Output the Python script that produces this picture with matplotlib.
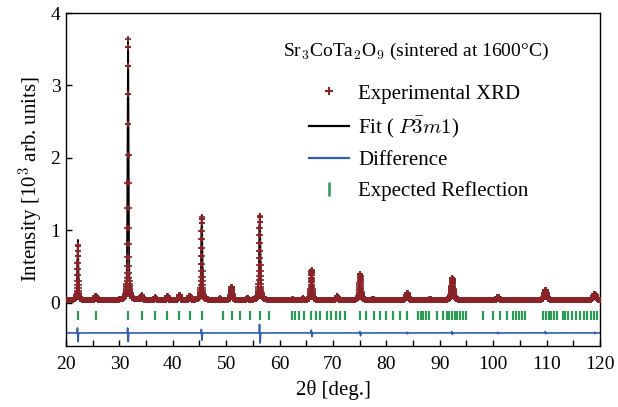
import numpy as np
import matplotlib
matplotlib.use("Agg")
import matplotlib.pyplot as plt
from matplotlib.ticker import MultipleLocator
from matplotlib.lines import Line2D

plt.rcParams['font.family'] = ['Liberation Serif', 'DejaVu Serif']
plt.rcParams['mathtext.fontset'] = 'cm'

# ---- data ----
two_theta_range = (20.0, 120.0)
step = 0.02
background = 0.035

peak_pos = [22.22, 25.6, 31.62, 34.2, 36.7, 39.0, 41.25, 43.2, 45.42, 48.8,
            51.0, 54.0, 56.28, 62.5, 64.4, 65.98, 70.8, 75.1, 77.5, 83.9,
            88.2, 92.35, 100.9, 109.8, 119.0]
exp_height = [0.76, 0.06, 3.60, 0.06, 0.035, 0.05, 0.07, 0.06, 1.15, 0.02,
              0.18, 0.02, 1.16, 0.01, 0.02, 0.41, 0.05, 0.36, 0.01, 0.10,
              0.01, 0.30, 0.04, 0.14, 0.09]
fit_height = [0.83, 0.06, 3.62, 0.06, 0.035, 0.05, 0.07, 0.06, 1.17, 0.02,
              0.18, 0.02, 1.19, 0.01, 0.02, 0.42, 0.05, 0.37, 0.01, 0.10,
              0.01, 0.30, 0.04, 0.14, 0.09]
peak_fwhm = [0.22, 0.30, 0.22, 0.30, 0.30, 0.30, 0.30, 0.30, 0.25, 0.30,
             0.32, 0.30, 0.28, 0.30, 0.30, 0.33, 0.36, 0.36, 0.40, 0.42,
             0.42, 0.46, 0.48, 0.52, 0.56]

diff_base = -0.42
diff_pos = [22.2, 31.6, 45.4, 56.3, 66.0, 75.1, 83.9, 92.3, 100.9, 109.8, 119.0]
diff_up = [0.07, 0.07, 0.05, 0.12, 0.04, 0.02, 0.01, 0.02, 0.01, 0.02, 0.01]
diff_down = [-0.12, -0.12, -0.10, -0.14, -0.05, -0.04, -0.01, -0.02, -0.01, -0.01, -0.01]

refl_pos = [22.2, 25.6, 31.6, 34.25, 36.75, 38.9, 41.25, 43.25, 45.45, 49.4,
            51.05, 52.55, 54.55, 56.25, 58.0, 62.4, 62.8, 63.7, 64.5, 65.9,
            66.9, 67.5, 68.8, 69.7, 70.6, 71.4, 72.3, 75.0, 76.2, 77.6,
            78.8, 80.0, 81.3, 82.5, 83.8, 85.9, 86.4, 86.9, 87.5, 88.0,
            89.4, 90.6, 91.3, 91.8, 92.3, 92.8, 93.3, 93.8, 94.3, 94.9,
            98.1, 100.0, 101.3, 102.5, 103.8, 104.3, 104.8, 105.3, 105.9,
            109.4, 109.9, 110.4, 110.9, 111.4, 112.0, 113.0, 113.5, 114.0,
            114.8, 115.5, 116.3, 117.0, 117.6, 118.3, 118.9, 119.5]
refl_ymin, refl_ymax = -0.235, -0.12

xticks = [20, 30, 40, 50, 60, 70, 80, 90, 100, 110, 120]
yticks = [0, 1, 2, 3, 4]

# ---- profiles built from the peak table ----
x = np.arange(two_theta_range[0], two_theta_range[1] + step / 2, step)


def profile(heights):
    y = np.full_like(x, background)
    for p, h, w in zip(peak_pos, heights, peak_fwhm):
        g = np.exp(-4 * np.log(2) * ((x - p) / w) ** 2)
        lz = 1.0 / (1 + 4 * ((x - p) / w) ** 2)
        y += h * (0.5 * g + 0.5 * lz)
    return y


y_exp = profile(exp_height)
y_fit = profile(fit_height)

y_diff = np.full_like(x, diff_base)
for p, u, d in zip(diff_pos, diff_up, diff_down):
    y_diff += u * np.exp(-((x - (p - 0.06)) / 0.05) ** 2)
    y_diff += d * np.exp(-((x - (p + 0.06)) / 0.05) ** 2)

red = '#8A2327'
green = '#2A9A55'
blue = '#2F5DB3'

fig = plt.figure(figsize=(6.18, 4.07), dpi=100)
ax = fig.add_axes([66 / 618, 1 - 346 / 407, 534 / 618, 333 / 407])

ax.plot(x, y_fit, color='black', lw=1.3, zorder=2)
ax.plot(x, y_exp, linestyle='none', marker='+', ms=5, mew=1.2, color=red,
        zorder=3)
ax.plot(x, y_diff, color=blue, lw=1.2, zorder=2)
ax.vlines(refl_pos, refl_ymin, refl_ymax, color=green, lw=1.6, zorder=2)

ax.set_xlim(*two_theta_range)
ax.set_ylim(-0.6, 4.0)
ax.set_xticks(xticks)
ax.set_yticks(yticks)
ax.xaxis.set_minor_locator(MultipleLocator(5))
ax.tick_params(which='both', direction='in', length=4, width=1.0, labelsize=14,
               top=False, right=False)
ax.tick_params(axis='x', pad=7)
ax.tick_params(axis='y', pad=4)
for s in ax.spines.values():
    s.set_linewidth(1.0)

ax.set_xlabel(r'2θ [deg.]', fontsize=15, labelpad=5)
ax.set_ylabel(r'Intensity [10$^{3}$ arb. units]', fontsize=15, labelpad=3)

ax.text((283 - 66) / 534, (346 - 51.7) / 333,
        r'Sr$_3$CoTa$_2$O$_9$ (sintered at 1600°C)', fontsize=14,
        ha='left', va='center', transform=ax.transAxes)

handles = [
    Line2D([], [], linestyle='none', marker='+', ms=6, mew=1.5, color=red),
    Line2D([], [], color='black', lw=1.6),
    Line2D([], [], color=blue, lw=1.6),
    Line2D([], [], linestyle='none', marker='|', ms=10, mew=1.8, color=green),
]
labels = ['Experimental XRD', r'Fit ( $P\bar{3}m1$)', 'Difference',
          'Expected Reflection']
ax.legend(handles, labels, loc='upper left',
          bbox_to_anchor=((309 - 66) / 534, (346 - 84) / 333),
          frameon=False, fontsize=15, borderpad=0, borderaxespad=0,
          handlelength=1.9, handletextpad=0.45, labelspacing=0.52)

fig.savefig('out.png', dpi=100)
